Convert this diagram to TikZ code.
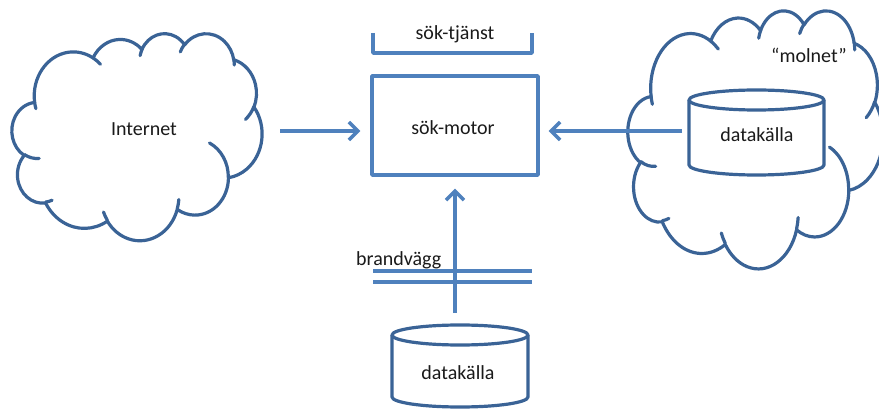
\documentclass[tikz,border=0pt]{standalone}
\usepackage{fontspec}
\setmainfont{Carlito}
\usetikzlibrary{arrows.meta}
\definecolor{lb}{HTML}{4F81BD}
\definecolor{db}{HTML}{3A6396}
\definecolor{tx}{HTML}{1A1A1A}
% DrawingML-style arcTo: wR, hR, visual start angle, visual sweep
\newcommand\carc[4]{arc[start angle={atan2((#1)*sin(#3),(#2)*cos(#3))}, delta angle={mod(atan2((#1)*sin((#3)+(#4)),(#2)*cos((#3)+(#4)))-atan2((#1)*sin(#3),(#2)*cos(#3))+720,360)}, x radius=#1, y radius=#2]}
\newcommand\drawofficecloud{%
  \draw[cloudline, fill=white] (39.00,143.70)
    \carc{67.53}{91.90}{-190.48748}{123.78053}
    \carc{53.33}{72.67}{-144.10238}{89.94523}
    \carc{43.65}{59.45}{-145.80792}{99.72302}
    \carc{48.57}{65.95}{-130.98607}{117.24173}
    \carc{53.33}{72.73}{-78.70888}{109.02692}
    \carc{67.75}{92.20}{-46.26725}{130.269}
    \carc{57.85}{78.67}{0.62502}{114.03333}
    \carc{67.52}{92.15}{22.4516}{115.17255}
    \carc{77.20}{105.43}{66.24263}{75.71102}
    \carc{43.60}{59.18}{-274.94208}{146.73557}
    \carc{43.45}{59.45}{-246.8285}{152.51885} -- cycle;
  \draw[cloudline]
    (46.93,261.77) \carc{43.45}{59.45}{86.742}{26.4295}
    (69.28,348.99) \carc{43.60}{59.18}{73.61047}{11.44747}
    (164.78,390.90) \carc{67.52}{92.15}{137.62415}{14.0811}
    (288.27,347.51) \carc{67.52}{92.15}{6.45327}{15.99835}
    (341.29,229.54) \carc{57.85}{78.67}{-70.29235}{70.91737}
    (417.98,153.54) \carc{53.33}{72.73}{30.31803}{27.7515}
    (383.24,54.26) \carc{48.57}{65.95}{-13.74433}{14.86223}
    (290.78,39.52) \carc{48.57}{65.95}{-149.18145}{18.19537}
    (221.41,47.20) \carc{43.65}{59.45}{-163.49427}{17.68635}
    (140.00,51.92) \carc{67.53}{91.90}{-66.70695}{12.31935}
    (41.27,157.89) \carc{67.53}{91.90}{157.65435}{11.85817};
}
\tikzset{
  cloudline/.style={draw=db, line width=3.2pt, line cap=round, line join=round},
  cylline/.style={draw=db, line width=3.2pt, fill=white, line join=round},
  boxline/.style={draw=lb, line width=3.4pt, line join=round},
  arr/.style={draw=lb, line width=3.4pt, -{Straight Barb[length=9pt,width=18pt]}},
  fwline/.style={draw=lb, line width=3.2pt},
  lbl/.style={text=tx, font=\fontsize{20}{24}\selectfont, inner sep=0pt},
}
\begin{document}
\begin{tikzpicture}[x=1pt, y=-1pt]
\clip (0,0) rectangle (879,409);
% clouds
\begin{scope}[shift={(12,33)}, x=0.5787pt, y=-0.4792pt]
  \drawofficecloud
\end{scope}
\begin{scope}[shift={(628,10)}, x=0.5903pt, y=-0.5972pt]
  \drawofficecloud
\end{scope}
% right cylinder
\draw[cylline] (689,100) -- (689,165) arc[start angle=180, end angle=0, x radius=67.5, y radius=10] -- (824,100);
\draw[cylline] (756.5,100) ellipse [x radius=67.5, y radius=10];
% bottom cylinder
\draw[cylline] (392,335) -- (392,397) arc[start angle=180, end angle=0, x radius=68, y radius=10] -- (528,335);
\draw[cylline] (460,335) ellipse [x radius=68, y radius=10];
% search engine box and service bracket
\node[boxline, minimum width=166pt, minimum height=99pt, inner sep=0pt] (motor) at (455,125.5) {};
\draw[boxline] (373,33) -- (373,53) -- (532,53) -- (532,33);
% firewall
\draw[fwline] (373,271) -- (532,271);
\draw[fwline] (373,282) -- (532,282);
% anchor coordinates
\coordinate (inetE) at (262,131);
\coordinate (src1W) at (689,131);
\coordinate (src2N) at (455,325);
% arrows
\draw[arr, shorten >=10pt] ([xshift=18pt]inetE) -- (motor.west |- inetE);
\draw[arr, shorten >=9pt] ([xshift=-7pt]src1W) -- (motor.east |- src1W);
\draw[arr, shorten >=12pt] ([yshift=12pt]src2N) -- (motor.south -| src2N);
% labels
\node[lbl] (internet) at (144,129) {Internet};
\node[lbl] (molnet) at (809,55) {“molnet”};
\node[lbl] (dk1) at (757,135) {datakälla};
\node[lbl] (dk2) at (458,373) {datakälla};
\node[lbl] (motortxt) at (453,128) {sök-motor};
\node[lbl] (tjanst) at (455,34) {sök-tjänst};
\node[lbl, anchor=west] (brand) at (356,260) {brandvägg};
\end{tikzpicture}
\end{document}
